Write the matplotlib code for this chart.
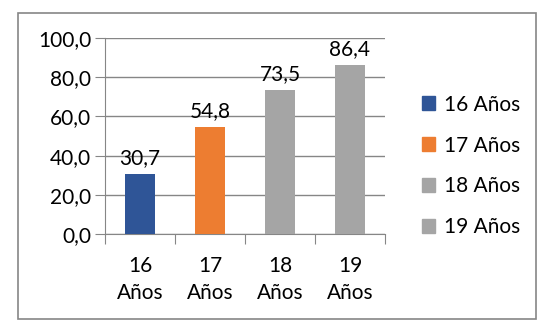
import matplotlib.pyplot as plt
from matplotlib.patches import Rectangle

categories = ["16\nAños", "17\nAños", "18\nAños", "19\nAños"]
legend_labels = ["16 Años", "17 Años", "18 Años", "19 Años"]
values = [30.7, 54.8, 73.5, 86.4]
colors = ["#2F5597", "#ED7D31", "#A5A5A5", "#A5A5A5"]

plt.rcParams['font.family'] = ['Lato', 'DejaVu Sans']
line_col = "#868686"
fs = 15

fig = plt.figure(figsize=(5.57, 3.34), dpi=100)
fig.patches.append(Rectangle((18 / 557, 1 - 319 / 334), 518 / 557, 306 / 334,
                             transform=fig.transFigure, fill=False,
                             edgecolor=line_col, linewidth=1.2))
ax = fig.add_axes([105 / 557, 1 - 234 / 334, 280 / 557, 196 / 334])

x = list(range(len(values)))
bars = ax.bar(x, values, width=0.42, color=colors, zorder=3)
for xi, v in zip(x, values):
    ax.annotate(f"{v:.1f}".replace(".", ","), (xi, v), xytext=(0, 4),
                textcoords="offset points", ha="center", va="bottom", fontsize=fs)

ax.set_xlim(-0.5, len(values) - 0.5)
ax.set_ylim(0, 100)
ax.set_yticks(range(0, 101, 20))
ax.set_yticklabels([f"{t},0" for t in range(0, 101, 20)], fontsize=fs)
ax.yaxis.grid(True, color=line_col, linewidth=1, zorder=0)
ax.tick_params(axis="y", length=7, color=line_col, pad=3)

ax.set_xticks([i - 0.5 for i in range(len(values) + 1)], minor=False)
ax.set_xticklabels([""] * (len(values) + 1))
ax.tick_params(axis="x", which="major", length=7, color=line_col)
ax.set_xticks(x, minor=True)
ax.set_xticklabels(categories, minor=True, fontsize=fs, linespacing=1.45)
ax.tick_params(axis="x", which="minor", length=0, pad=16)

for s in ["top", "right"]:
    ax.spines[s].set_visible(False)
for s in ["left", "bottom"]:
    ax.spines[s].set_color(line_col)

handles = [Rectangle((0, 0), 1, 1, color=c) for c in colors]
fig.legend(handles, legend_labels, loc="center left", bbox_to_anchor=(403 / 557, 1 - 166 / 334),
           frameon=False, fontsize=fs, handlelength=0.65, handleheight=0.65,
           handletextpad=0.4, labelspacing=1.0)

fig.savefig("out.png", dpi=100)
